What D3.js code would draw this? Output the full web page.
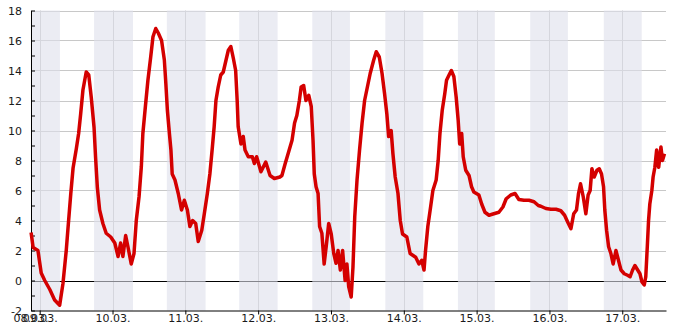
<!DOCTYPE html>
<html>
<head>
<meta charset="utf-8">
<script src="https://cdn.jsdelivr.net/npm/d3@7"></script>
<style>
  body { margin: 0; background: #fff; }
  text { font-family: "DejaVu Sans", sans-serif; }
</style>
</head>
<body>
<div id="chart"></div>
<script>
// temperature readings
const times = [
  "08.03. 21:10","08.03. 21:50","08.03. 23:25","09.03. 00:30","09.03. 01:40","09.03. 03:20","09.03. 04:55","09.03. 06:35",
  "09.03. 07:40","09.03. 08:45","09.03. 09:20","09.03. 10:15","09.03. 11:00","09.03. 12:05","09.03. 12:50","09.03. 13:30",
  "09.03. 14:15","09.03. 15:20","09.03. 16:10","09.03. 17:00","09.03. 17:55","09.03. 18:25","09.03. 19:00","09.03. 19:45",
  "09.03. 20:50","09.03. 21:55","09.03. 23:25","10.03. 00:45","10.03. 01:50","10.03. 02:40","10.03. 03:25","10.03. 04:20",
  "10.03. 05:05","10.03. 06:10","10.03. 07:05","10.03. 07:50","10.03. 08:45","10.03. 09:30","10.03. 10:00","10.03. 10:50",
  "10.03. 11:40","10.03. 12:35","10.03. 13:20","10.03. 14:15","10.03. 15:05","10.03. 16:10","10.03. 17:05","10.03. 17:35",
  "10.03. 18:05","10.03. 18:45","10.03. 19:15","10.03. 19:40","10.03. 20:35","10.03. 21:40","10.03. 22:45","10.03. 23:40",
  "11.03. 00:40","11.03. 01:30","11.03. 02:25","11.03. 03:25","11.03. 04:15","11.03. 05:25","11.03. 06:15","11.03. 07:15",
  "11.03. 08:05","11.03. 08:55","11.03. 09:30","11.03. 10:05","11.03. 10:50","11.03. 11:40","11.03. 12:30","11.03. 13:25",
  "11.03. 14:10","11.03. 15:00","11.03. 15:50","11.03. 16:35","11.03. 17:05","11.03. 17:25","11.03. 18:20","11.03. 19:05",
  "11.03. 19:40","11.03. 20:45","11.03. 22:05","11.03. 22:45","11.03. 23:30","12.03. 00:55","12.03. 02:30","12.03. 03:55",
  "12.03. 05:20","12.03. 07:10","12.03. 07:50","12.03. 08:55","12.03. 10:05","12.03. 11:10","12.03. 12:00","12.03. 12:45",
  "12.03. 13:35","12.03. 14:10","12.03. 15:00","12.03. 15:45","12.03. 16:40","12.03. 17:30","12.03. 18:05","12.03. 18:30",
  "12.03. 19:05","12.03. 19:45","12.03. 20:15","12.03. 21:00","12.03. 21:45","12.03. 22:25","12.03. 23:15","13.03. 00:05",
  "13.03. 00:55","13.03. 01:40","13.03. 02:20","13.03. 03:05","13.03. 03:50","13.03. 04:40","13.03. 05:15","13.03. 05:50",
  "13.03. 06:40","13.03. 07:15","13.03. 07:50","13.03. 08:35","13.03. 09:25","13.03. 10:15","13.03. 11:05","13.03. 12:00",
  "13.03. 12:55","13.03. 14:05","13.03. 14:55","13.03. 15:55","13.03. 16:50","13.03. 17:40","13.03. 18:25","13.03. 19:00",
  "13.03. 19:50","13.03. 20:25","13.03. 21:10","13.03. 22:05","13.03. 22:50","13.03. 23:35","14.03. 01:00","14.03. 02:05",
  "14.03. 03:55","14.03. 05:00","14.03. 05:55","14.03. 06:40","14.03. 07:10","14.03. 07:55","14.03. 08:50","14.03. 09:35",
  "14.03. 10:40","14.03. 11:20","14.03. 11:55","14.03. 12:40","14.03. 13:30","14.03. 14:05","14.03. 14:55","14.03. 15:40",
  "14.03. 16:30","14.03. 17:15","14.03. 17:55","14.03. 18:25","14.03. 19:05","14.03. 19:35","14.03. 20:25","14.03. 21:30",
  "14.03. 22:20","14.03. 23:05","15.03. 00:45","15.03. 01:40","15.03. 02:45","15.03. 04:05","15.03. 05:40","15.03. 07:20",
  "15.03. 08:40","15.03. 09:45","15.03. 11:15","15.03. 12:40","15.03. 13:55","15.03. 15:35","15.03. 17:15","15.03. 18:55",
  "15.03. 20:20","15.03. 21:10","15.03. 22:50","16.03. 00:30","16.03. 02:10","16.03. 03:45","16.03. 05:00","16.03. 06:00",
  "16.03. 07:05","16.03. 08:00","16.03. 08:55","16.03. 09:35","16.03. 10:15","16.03. 11:10","16.03. 12:00","16.03. 12:45",
  "16.03. 13:25","16.03. 14:00","16.03. 14:45","16.03. 15:40","16.03. 16:25","16.03. 17:10","16.03. 17:50","16.03. 18:15",
  "16.03. 18:50","16.03. 19:30","16.03. 20:15","16.03. 21:00","16.03. 21:55","16.03. 22:45","16.03. 23:35","17.03. 00:40",
  "17.03. 01:45","17.03. 02:35","17.03. 03:25","17.03. 04:10","17.03. 05:05","17.03. 05:50","17.03. 06:30","17.03. 07:15",
  "17.03. 07:45","17.03. 08:15","17.03. 08:40","17.03. 09:05","17.03. 09:45","17.03. 10:10","17.03. 10:45","17.03. 11:20",
  "17.03. 12:00","17.03. 12:45","17.03. 13:15","17.03. 13:55"
];
const temps = [
  3.2,2.2,2.0,0.5,0.0,-0.6,-1.3,-1.65,
  -0.2,2.0,3.5,5.8,7.5,8.8,9.8,11.1,
  12.7,13.9,13.7,12.2,10.2,8.2,6.2,4.7,
  3.8,3.15,2.9,2.5,1.6,2.5,1.6,3.0,
  2.25,1.1,1.8,4.0,5.6,7.6,9.8,11.6,
  13.35,14.9,16.25,16.8,16.5,16.0,14.7,13.1,
  11.35,9.8,8.7,7.1,6.7,5.8,4.7,5.35,
  4.7,3.6,4.0,3.8,2.6,3.35,4.45,5.8,
  7.1,8.9,10.25,12.0,12.9,13.7,13.9,14.7,
  15.35,15.6,14.8,14.0,12.0,10.25,9.1,9.6,
  8.7,8.25,8.25,7.8,8.25,7.25,7.9,7.0,
  6.8,6.9,7.0,7.8,8.6,9.35,10.5,11.0,
  12.0,12.9,13.0,12.0,12.35,11.6,9.35,7.1,
  6.25,5.8,3.6,3.15,1.1,2.25,3.8,3.1,
  1.8,1.15,2.0,0.7,2.0,0.0,1.1,-0.4,
  -1.1,0.9,4.25,6.7,8.7,10.5,12.0,12.9,
  13.8,14.7,15.25,14.9,13.8,12.45,11.1,9.6,
  10.0,8.45,6.9,5.8,4.0,3.1,2.9,1.8,
  1.55,1.1,1.35,0.7,2.0,3.6,4.9,6.0,
  6.7,8.0,9.8,11.35,12.45,13.35,13.7,14.0,
  13.6,12.25,10.7,9.1,9.8,8.25,7.35,7.0,
  6.25,5.9,5.7,5.1,4.55,4.35,4.45,4.55,
  4.9,5.45,5.7,5.8,5.4,5.35,5.35,5.25,
  5.0,4.95,4.8,4.75,4.75,4.65,4.35,3.9,
  3.45,4.45,4.7,5.8,6.45,5.55,4.45,5.7,
  6.0,7.45,6.9,7.35,7.45,7.1,6.25,4.7,
  3.35,2.25,1.8,1.1,2.0,1.35,0.7,0.45,
  0.35,0.25,0.7,1.0,0.7,0.45,-0.1,-0.3,
  0.25,2.25,4.0,5.1,6.0,6.9,7.55,8.7,
  7.55,8.9,8.0,8.45
];

// night periods (shaded)
const nightStart = ["08.03. 17:55","09.03. 17:55","10.03. 17:55","11.03. 17:45","12.03. 17:50","13.03. 17:55","14.03. 17:50","15.03. 17:40","16.03. 17:55"];
const nightEnd   = ["09.03. 06:40","10.03. 06:45","11.03. 06:40","12.03. 06:25","13.03. 06:15","14.03. 06:25","15.03. 06:00","16.03. 06:05","17.03. 06:25"];

const timeStart = "08.03. 21:08";
const timeEnd = "17.03. 14:25";
const yTicks = [-2,-1,0,1,2,3,4,5,6,7,8,9,10,11,12,13,14,15,16,17,18];

const parse = d3.timeParse("%d.%m. %H:%M");
const fmt = d3.timeFormat("%d.%m.");

const width = 685;
const height = 330;
const margin = {top: 10.5, right: 19, bottom: 19.5, left: 31};

const svg = d3.select("#chart").append("svg")
    .attr("width", width)
    .attr("height", height);

const x = d3.scaleTime()
    .domain([parse(timeStart), parse(timeEnd)])
    .range([margin.left, width - margin.right]);

const y = d3.scaleLinear()
    .domain([-2, 18])
    .range([height - margin.bottom, margin.top]);

const days = x.ticks(d3.timeDay.every(1));

// grid
svg.append("g")
    .selectAll("line")
    .data(yTicks.filter(d => d % 2 === 0 && d > -2 && d !== 0))
    .enter().append("line")
    .attr("x1", margin.left).attr("x2", width - margin.right)
    .attr("y1", d => Math.round(y(d)) + 0.5).attr("y2", d => Math.round(y(d)) + 0.5)
    .attr("stroke", "#c8c8c8");

svg.append("g")
    .selectAll("line")
    .data(days)
    .enter().append("line")
    .attr("x1", d => Math.round(x(d)) + 0.5).attr("x2", d => Math.round(x(d)) + 0.5)
    .attr("y1", margin.top).attr("y2", height - margin.bottom)
    .attr("stroke", "#c8c8c8");

// zero line
svg.append("line")
    .attr("x1", margin.left).attr("x2", width - margin.right)
    .attr("y1", Math.round(y(0)) + 0.5).attr("y2", Math.round(y(0)) + 0.5)
    .attr("stroke", "#000");

// night bands
const nights = nightStart.map((s, i) => ({s: parse(s), e: parse(nightEnd[i])}));
svg.append("g")
    .selectAll("rect")
    .data(nights)
    .enter().append("rect")
    .attr("x", d => Math.max(x(d.s), margin.left))
    .attr("width", d => x(d.e) - Math.max(x(d.s), margin.left))
    .attr("y", margin.top)
    .attr("height", y(-2) - y(18))
    .attr("fill", "rgb(222,224,235)")
    .attr("fill-opacity", 0.6);

// axes
const yAxis = d3.axisLeft(y)
    .tickValues(yTicks)
    .tickSize(-4)
    .tickSizeOuter(0)
    .tickPadding(9)
    .tickFormat(d => d % 2 === 0 ? d : "");
svg.append("g")
    .attr("transform", "translate(" + margin.left + ",0)")
    .call(yAxis)
    .call(g => g.selectAll("text").attr("font-size", 11).attr("fill", "#1a1a1a").style("font-family", "DejaVu Sans"))
    .call(g => g.selectAll("line, path").attr("stroke", "#000"));

const xAxis = d3.axisBottom(x)
    .tickValues(days)
    .tickFormat(fmt)
    .tickSize(4)
    .tickSizeOuter(0)
    .tickPadding(0);
svg.append("g")
    .attr("transform", "translate(0," + (height - margin.bottom) + ")")
    .call(xAxis)
    .call(g => g.selectAll("text").attr("font-size", 11).attr("fill", "#1a1a1a").style("font-family", "DejaVu Sans"))
    .call(g => g.selectAll("line, path").attr("stroke", "#000"));

// label at the start of the time range
svg.append("text")
    .attr("x", x.range()[0])
    .attr("y", height - margin.bottom + 4)
    .attr("dy", "0.71em")
    .attr("text-anchor", "middle")
    .attr("font-size", 11)
    .attr("fill", "#1a1a1a")
    .text(fmt(parse(timeStart)));

// temperature line
const data = times.map((t, i) => ({t: parse(t), v: temps[i]}));
const line = d3.line()
    .x(d => x(d.t))
    .y(d => y(d.v));

svg.append("path")
    .datum(data)
    .attr("fill", "none")
    .attr("stroke", "#d40000")
    .attr("stroke-width", 3.5)
    .attr("stroke-linejoin", "round")
    .attr("d", line);
</script>
</body>
</html>
